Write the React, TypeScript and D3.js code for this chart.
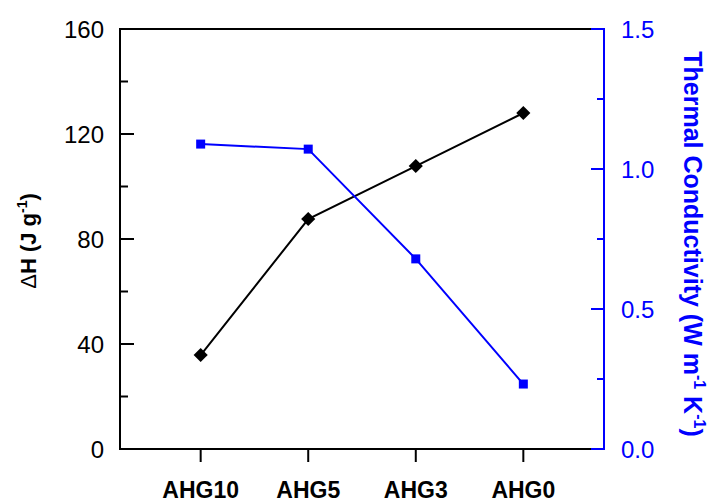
import React from "react";
import * as d3 from "d3";

const categories = ["AHG10", "AHG5", "AHG3", "AHG0"];
const enthalpy = [35.8, 87.6, 107.8, 128.0];
const conductivity = [1.089, 1.071, 0.679, 0.232];
const leftTicks = [0, 40, 80, 120, 160];
const leftMinor = [20, 60, 100, 140];
const rightTicks = [0, 0.5, 1.0, 1.5];
const rightMinor = [0.25, 0.75, 1.25];

const BLUE = "#0000ff";
const FONT = "'Liberation Sans', Arial, sans-serif";

export default function App() {
  const W = 711, H = 504;
  const left = 120, right = 604, top = 29, bottom = 449;
  const x = d3.scaleLinear().domain([-0.75, 3.75]).range([left, right]);
  const yL = d3.scaleLinear().domain([0, 160]).range([bottom, top]);
  const yR = d3.scaleLinear().domain([0, 1.5]).range([bottom, top]);
  const line = d3.line<number>();
  const blackPath = line(enthalpy.map((v, i) => [x(i), yL(v)]));
  const bluePath = line(conductivity.map((v, i) => [x(i), yR(v)]));
  const sw = 2;
  return (
    <svg width={W} height={H} style={{ position: "absolute", left: 0, top: 0 }} fontFamily={FONT}>
      <rect width={W} height={H} fill="#fff" />
      {/* frame top/bottom */}
      <line x1={left} x2={592} y1={top} y2={top} stroke="#000" strokeWidth={sw} />
      <line x1={592} x2={right} y1={top} y2={top} stroke={BLUE} strokeWidth={sw} />
      <line x1={left} x2={592} y1={bottom} y2={bottom} stroke="#000" strokeWidth={sw} />
      <line x1={592} x2={right} y1={bottom} y2={bottom} stroke={BLUE} strokeWidth={sw} />
      {/* left axis */}
      <line x1={left} x2={left} y1={top - 1} y2={bottom + 1} stroke="#000" strokeWidth={sw} />
      {leftTicks.map((t) => (
        <g key={"l" + t}>
          <line x1={left} x2={left + 14} y1={yL(t)} y2={yL(t)} stroke="#000" strokeWidth={sw} />
          <text x={104} y={yL(t)} dy="0.36em" textAnchor="end" fontSize={24} fill="#000">{t}</text>
        </g>
      ))}
      {leftMinor.map((t) => (
        <line key={"lm" + t} x1={left} x2={left + 8} y1={yL(t)} y2={yL(t)} stroke="#000" strokeWidth={sw} />
      ))}
      {/* right axis */}
      <line x1={right} x2={right} y1={top - 1} y2={bottom + 1} stroke={BLUE} strokeWidth={sw} />
      {rightTicks.map((t) => (
        <g key={"r" + t}>
          <line x1={right - 13} x2={right} y1={yR(t)} y2={yR(t)} stroke={BLUE} strokeWidth={sw} />
          <text x={621} y={yR(t)} dy="0.36em" textAnchor="start" fontSize={24} fill={BLUE}>{t.toFixed(1)}</text>
        </g>
      ))}
      {rightMinor.map((t) => (
        <line key={"rm" + t} x1={right - 7} x2={right} y1={yR(t)} y2={yR(t)} stroke={BLUE} strokeWidth={sw} />
      ))}
      {/* x axis ticks */}
      {categories.map((c, i) => (
        <g key={c}>
          <line x1={x(i)} x2={x(i)} y1={bottom} y2={bottom + 13} stroke="#000" strokeWidth={sw} />
          <text x={x(i)} y={498} textAnchor="middle" fontSize={23} fontWeight="bold" fill="#000">{c}</text>
        </g>
      ))}
      {/* series */}
      <path d={blackPath || ""} fill="none" stroke="#000" strokeWidth={2} />
      {enthalpy.map((v, i) => (
        <rect key={"d" + i} x={x(i) - 5} y={yL(v) - 5} width={10} height={10} fill="#000"
          transform={`rotate(45 ${x(i)} ${yL(v)})`} />
      ))}
      <path d={bluePath || ""} fill="none" stroke={BLUE} strokeWidth={2} />
      {conductivity.map((v, i) => (
        <rect key={"s" + i} x={x(i) - 4.5} y={yR(v) - 4.5} width={9} height={9} fill={BLUE} />
      ))}
      {/* axis titles */}
      <text transform={`translate(36, 241) rotate(-90)`} textAnchor="middle"
        fontSize={22} fontWeight="bold" fill="#000">
        <tspan fontWeight="normal">Δ</tspan>H (J g<tspan dy="-9" fontSize={14}>-1</tspan><tspan dy="9">)</tspan>
      </text>
      <text transform={`translate(684, 244) rotate(90)`} textAnchor="middle"
        fontSize={25} fontWeight="bold" fill={BLUE}>
        Thermal Conductivity (W m<tspan dy="-10" fontSize={16}>-1</tspan><tspan dy="10"> K</tspan><tspan dy="-10" fontSize={16}>-1</tspan><tspan dy="10">)</tspan>
      </text>
    </svg>
  );
}
